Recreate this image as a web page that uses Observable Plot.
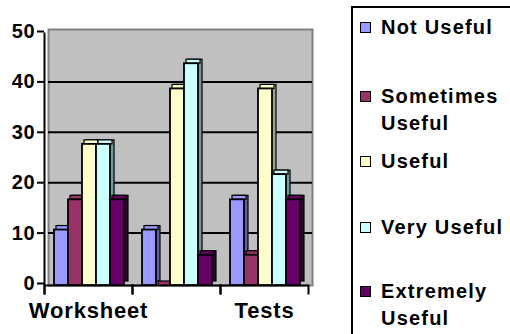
<!DOCTYPE html>
<html>
<head>
<meta charset="utf-8">
<script src="https://cdn.jsdelivr.net/npm/d3@7"></script>
<script src="https://cdn.jsdelivr.net/npm/@observablehq/plot@0.6"></script>
<style>
  html, body { margin: 0; padding: 0; background: #fff; }
  body { width: 510px; height: 334px; overflow: hidden; position: relative;
         font-family: 'Liberation Sans', Arial, sans-serif; }
  #chart { position: absolute; left: 0; top: 0; }
  #legend { position: absolute; left: 351px; top: 6px; width: 200px; height: 400px;
            border: 2px solid #000; box-sizing: border-box; }
  .item { position: absolute; left: 0; width: 160px; }
  .sw { position: absolute; left: 7px; top: 8px; width: 11px; height: 11px;
        border: 1.5px solid #000; box-sizing: border-box; }
  .lab { position: absolute; left: 28px; width: 130px; font-size: 20px; font-weight: bold;
         letter-spacing: 1.2px; line-height: 27px; color: #000; }
</style>
</head>
<body>
<div id="chart"></div>
<div id="legend"></div>
<script>
// ---- data ----
const xLabels = ["Worksheet", "", "Tests"];
const series = ["Not Useful", "Sometimes Useful", "Useful", "Very Useful", "Extremely Useful"];
const notUseful = [11, 11, 17];
const sometimesUseful = [17, 0, 6];
const useful = [28, 39, 39];
const veryUseful = [28, 44, 22];
const extremelyUseful = [17, 6, 17];
const yTicks = [0, 10, 20, 30, 40, 50];
const gridTicks = [10, 20, 30, 40];

const frontColors = ["#9999FF", "#993366", "#FFFFCC", "#CCFFFF", "#660066"];
const sideColors = ["#5f5fa6", "#5a1f3e", "#a3a382", "#6f9c9c", "#330033"];

const valuesBySeries = [notUseful, sometimesUseful, useful, veryUseful, extremelyUseful];
const data = [];
series.forEach((s, si) => {
  valuesBySeries[si].forEach((v, ci) => data.push({cat: ci, series: s, value: v}));
});

// ---- legend ----
const legendTops = [14, 83, 148, 214, 278];
const legend = document.getElementById("legend");
series.forEach((s, i) => {
  const item = document.createElement("div");
  item.className = "item";
  item.style.top = (legendTops[i] - 8) + "px";
  const sw = document.createElement("div");
  sw.className = "sw";
  sw.style.background = frontColors[i];
  const lab = document.createElement("div");
  lab.className = "lab";
  lab.textContent = s;
  item.appendChild(sw);
  item.appendChild(lab);
  legend.appendChild(item);
});

const barMarks = [];
series.forEach((s, si) => {
  const sub = data.filter(d => d.series === s);
  // side/depth face
  barMarks.push(Plot.barY(sub, {fx: "cat", x: "series", y: "value", fill: sideColors[si],
    stroke: "#000", strokeWidth: 1.2, dx: 4, dy: -4}));
  // top face
  barMarks.push(Plot.barY(sub, {fx: "cat", x: "series", y1: "value", y2: "value", insetTop: -4,
    fill: frontColors[si], stroke: "#000", strokeWidth: 1.2, dx: 2}));
  // front face
  barMarks.push(Plot.barY(sub, {fx: "cat", x: "series", y: "value", fill: frontColors[si],
    stroke: "#000", strokeWidth: 1.8}));
});

const chart = Plot.plot({
  width: 330,
  height: 334,
  marginLeft: 44,
  marginRight: 22,
  marginTop: 33,
  marginBottom: 49,
  style: {fontFamily: "'Liberation Sans', Arial, sans-serif", fontWeight: "bold",
          letterSpacing: "0.8px", background: "white", overflow: "visible", color: "#000"},
  fx: {domain: [0, 1, 2], padding: 0},
  x: {domain: series, paddingInner: 0, paddingOuter: 0.63, align: 0.57, axis: null},
  y: {domain: [0, 50]},
  marks: [
    // back wall
    Plot.frame({facet: "super", fill: "#c0c0c0", stroke: "#808080", strokeWidth: 2,
                dx: 4, dy: -4, insetBottom: -4}),
    // gridlines on back wall (repeated in each category facet)
    Plot.ruleY(gridTicks, {stroke: "#000", strokeWidth: 2, dx: 4, dy: -2}),
    // floor front edge
    Plot.ruleY([0], {stroke: "#000", strokeWidth: 2}),
    ...barMarks,
    // y axis line
    Plot.frame({facet: "super", anchor: "left", stroke: "#000", strokeWidth: 2, insetBottom: -8}),
    // category boundary ticks
    Plot.frame({anchor: "left", stroke: "#000", strokeWidth: 2, insetTop: 252, insetBottom: -8}),
    Plot.frame({anchor: "right", stroke: "#000", strokeWidth: 2, insetTop: 252, insetBottom: -8}),
    Plot.axisY({ticks: yTicks, tickSize: 7, tickPadding: 2, fontSize: 20, label: null,
                strokeWidth: 2, dy: -2}),
    Plot.axisFx({anchor: "bottom", tickSize: 0, tickPadding: 17, fontSize: 22, label: null,
                 tickFormat: i => xLabels[i]})
  ]
});
document.getElementById("chart").appendChild(chart);
</script>
</body>
</html>
